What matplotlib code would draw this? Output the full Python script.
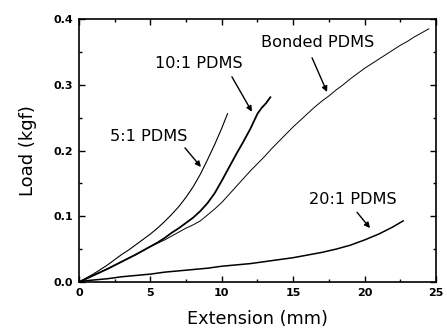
import numpy as np
import matplotlib
matplotlib.use('Agg')
import matplotlib.pyplot as plt
from matplotlib.ticker import MultipleLocator

# Donnees (extension en mm, charge en kgf)
x_5 = [0, 0.5, 1, 1.5, 2, 2.5, 3, 3.5, 4, 4.5, 5, 5.5, 6, 6.5, 7, 7.5, 8, 8.5,
       9, 9.5, 10, 10.4]
y_5 = [0, 0.006, 0.012, 0.019, 0.026, 0.034, 0.042, 0.049, 0.057, 0.065, 0.073,
       0.082, 0.092, 0.103, 0.115, 0.129, 0.145, 0.164, 0.186, 0.209, 0.234, 0.256]

x_10 = [0, 0.5, 1, 2, 3, 4, 4.5, 5, 5.5, 6, 6.5, 7, 7.5, 8, 8.5, 9, 9.5, 10,
        10.5, 11, 11.5, 12.0, 12.5, 12.8, 13.1, 13.4]
y_10 = [0, 0.005, 0.010, 0.020, 0.031, 0.042, 0.048, 0.054, 0.060, 0.067, 0.075,
        0.082, 0.090, 0.098, 0.108, 0.120, 0.135, 0.154, 0.174, 0.194, 0.213,
        0.233, 0.256, 0.265, 0.272, 0.281]

x_bond = [0, 0.5, 1, 2, 3, 4, 4.5, 5, 5.5, 6, 6.5, 7, 7.5, 8, 8.5, 9, 9.5, 10,
          10.5, 11, 11.5, 12, 12.5, 13, 13.5, 14, 14.5, 15, 15.5, 16, 16.5, 17,
          17.5, 18, 18.5, 19, 19.5, 20, 20.5, 21, 21.5, 22, 22.5, 23, 23.5, 24, 24.5]
y_bond = [0, 0.005, 0.010, 0.020, 0.031, 0.042, 0.048, 0.054, 0.059, 0.064, 0.070,
          0.076, 0.082, 0.087, 0.093, 0.102, 0.111, 0.121, 0.133, 0.145, 0.157,
          0.169, 0.180, 0.191, 0.203, 0.214, 0.225, 0.236, 0.246, 0.256, 0.266,
          0.275, 0.283, 0.292, 0.300, 0.309, 0.317, 0.325, 0.332, 0.339, 0.346,
          0.353, 0.360, 0.366, 0.373, 0.379, 0.385]

x_20 = [0, 0.5, 1, 2, 3, 4, 5, 6, 7, 8, 9, 10, 11, 12, 13, 14, 15, 16, 17, 18,
        19, 20, 21, 22, 22.7]
y_20 = [0, 0.002, 0.003, 0.005, 0.008, 0.010, 0.012, 0.015, 0.017, 0.019, 0.021,
        0.024, 0.026, 0.028, 0.031, 0.034, 0.037, 0.041, 0.045, 0.050, 0.056,
        0.064, 0.073, 0.084, 0.093]

# Etiquettes : texte, position du texte, queue et pointe de la fleche
labels = ['5:1 PDMS', '10:1 PDMS', 'Bonded PDMS', '20:1 PDMS']
text_pos = [(4.90, 0.222), (8.40, 0.333), (16.74, 0.365), (19.19, 0.126)]
arrow_tail = [(7.42, 0.204), (10.71, 0.312), (16.32, 0.341), (19.47, 0.106)]
arrow_head = [(8.54, 0.175), (12.11, 0.259), (17.37, 0.289), (20.38, 0.082)]

fig = plt.figure(figsize=(4.47, 3.31), dpi=100)
ax = fig.add_axes([0.1767, 0.148, 0.7987, 0.7946])

ax.plot(x_5, y_5, color='black', lw=0.8)
ax.plot(x_10, y_10, color='black', lw=1.3)
ax.plot(x_bond, y_bond, color='black', lw=0.7)
ax.plot(x_20, y_20, color='black', lw=1.1)

for lab, tp, tl, hd in zip(labels, text_pos, arrow_tail, arrow_head):
    ax.text(tp[0], tp[1], lab, ha='center', va='center', fontsize=11.6)
    ax.annotate('', xy=hd, xytext=tl,
                arrowprops=dict(arrowstyle='-|>', color='black', lw=1.0,
                                mutation_scale=8, shrinkA=0, shrinkB=0))

ax.set_xlim(0, 25)
ax.set_ylim(0, 0.4)
ax.xaxis.set_minor_locator(MultipleLocator(2.5))
ax.yaxis.set_minor_locator(MultipleLocator(0.05))
ax.tick_params(which='both', direction='in', top=True, right=True, width=1.0)
ax.tick_params(which='major', length=4, pad=4)
ax.tick_params(which='minor', length=2.5)
ax.set_xticks([0, 5, 10, 15, 20, 25])
ax.set_xticklabels(['0', '5', '10', '15', '20', '25'], fontweight='bold', fontsize=8)
ax.set_yticks([0, 0.1, 0.2, 0.3, 0.4])
ax.set_yticklabels(['0.0', '0.1', '0.2', '0.3', '0.4'], fontweight='bold', fontsize=8)
for s in ax.spines.values():
    s.set_linewidth(1.2)

ax.set_xlabel('Extension (mm)', fontsize=12.8, labelpad=9)
ax.set_ylabel('Load (kgf)', fontsize=13, labelpad=12)

fig.savefig('out.png', dpi=100)
